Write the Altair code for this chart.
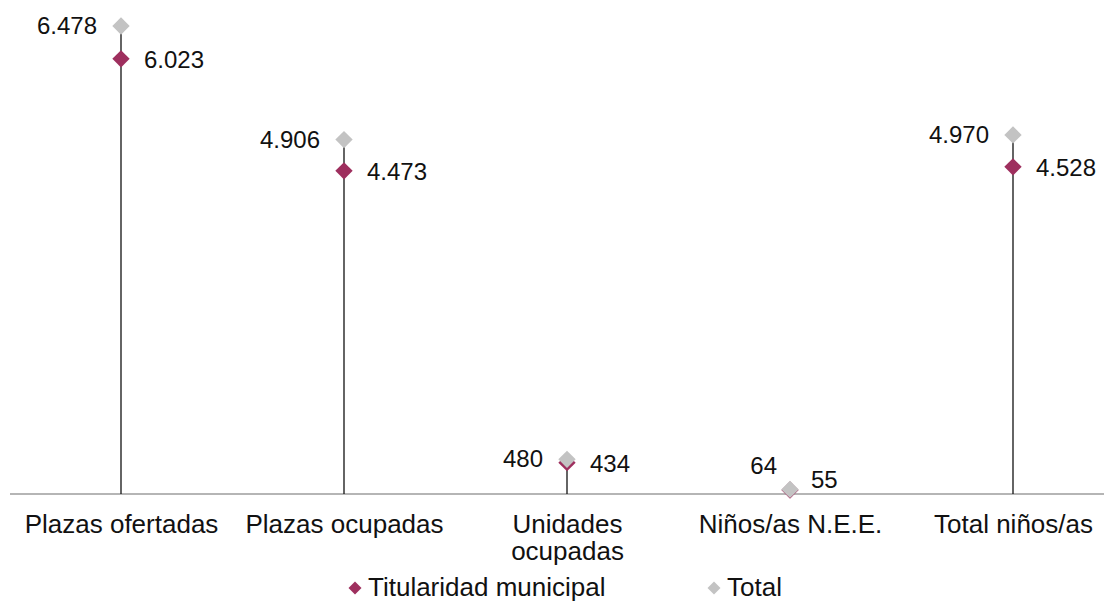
import altair as alt
import pandas as pd

categorias = ["Plazas ofertadas", "Plazas ocupadas", "Unidades ocupadas", "Niños/as N.E.E.", "Total niños/as"]
municipal = [6023, 4473, 434, 55, 4528]
total = [6478, 4906, 480, 64, 4970]
series = ["Titularidad municipal", "Total"]
colores = ["#9E2F5E", "#C3C3C3"]

FONT = "Liberation Sans"
FS = 24
FS_AX = 26
W, H = 1094, 486

rows = []
for c, v in zip(categorias, municipal):
    rows.append({"cat": c, "serie": series[0], "valor": v})
for c, v in zip(categorias, total):
    rows.append({"cat": c, "serie": series[1], "valor": v})
df = pd.DataFrame(rows)
stems = pd.DataFrame({"cat": categorias, "total": total})

xs = alt.Scale(type="point", domain=categorias, range=[111, 1003], padding=0)
ys = alt.Scale(domain=[0, 6727], nice=False, zero=True)

x_enc = alt.X("cat:N", scale=xs,
              axis=alt.Axis(title=None, domain=False, ticks=False, grid=False, labelAngle=0,
                            labelFont=FONT, labelFontSize=FS_AX, labelColor="#111111",
                            labelPadding=17, labelLineHeight=27, labelLimit=0,
                            labelExpr="datum.label == 'Unidades ocupadas' ? ['Unidades', 'ocupadas'] : datum.label"))

base_line = alt.Chart(stems).mark_rule(color="#B5B5B5", strokeWidth=2).encode(
    y=alt.Y("z:Q", scale=ys, axis=None)
).transform_calculate(z="0")

stem = alt.Chart(stems).mark_rule(color="#111111", strokeWidth=1.3).encode(
    x=x_enc,
    y=alt.Y("total:Q", scale=ys, axis=None),
    y2=alt.datum(0),
)

pts = alt.Chart(df).mark_point(shape="diamond", filled=True, size=300, opacity=1).encode(
    x=x_enc,
    y=alt.Y("valor:Q", scale=ys, axis=None),
    color=alt.Color("serie:N", scale=alt.Scale(domain=series, range=colores),
                    legend=alt.Legend(orient="none", legendX=332, legendY=567, direction="horizontal",
                                      title=None, symbolType="diamond", symbolSize=170,
                                      labelFont=FONT, labelFontSize=FS_AX, labelColor="#111111",
                                      labelLimit=0, columnPadding=95, labelOffset=0,
                                      symbolStrokeWidth=0)),
)

lab = alt.Chart(df).transform_calculate(
    txt="replace(format(datum.valor, ','), ',', '.')"
)

def lbl(serie, align, dx, dy, nee):
    cond = "datum.cat == 'Niños/as N.E.E.'" if nee else "datum.cat != 'Niños/as N.E.E.'"
    return lab.transform_filter(alt.datum.serie == serie).transform_filter(cond).mark_text(
        align=align, baseline="middle", dx=dx, dy=dy, font=FONT, fontSize=FS, color="#111111"
    ).encode(x=x_enc, y=alt.Y("valor:Q", scale=ys, axis=None), text="txt:N")

labels = [
    lbl("Total", "right", -24, 1, False),
    lbl("Titularidad municipal", "left", 23, 2, False),
    lbl("Total", "right", -13, -22, True),
    lbl("Titularidad municipal", "left", 21, -9, True),
]

chart = alt.layer(base_line, stem, pts, *labels).properties(
    width=W, height=H,
    autosize=alt.AutoSizeParams(type="none"),
    padding={"left": 2, "top": 0, "right": 0, "bottom": 110},
).configure_view(stroke=None)

chart.save("out.html", embed_options={"renderer": "svg", "actions": False})
